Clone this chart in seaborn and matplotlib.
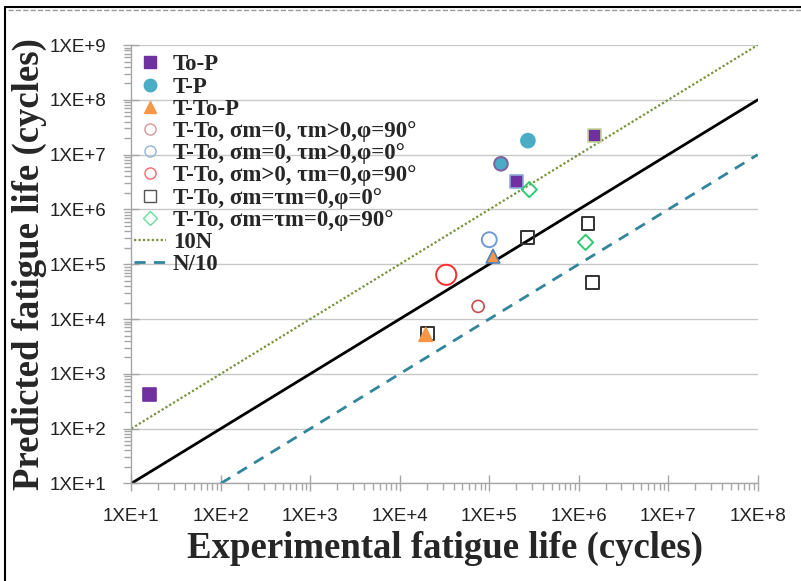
import numpy as np
import seaborn as sns
import matplotlib
matplotlib.use("Agg")
import matplotlib.pyplot as plt
from matplotlib.lines import Line2D
from matplotlib.ticker import LogLocator, FixedLocator, NullFormatter

# --- данные (эксперимент / прогноз, циклы) ---
top_x = [16, 2.0e5, 1.5e6]
top_y = [420, 3.2e6, 2.2e7]
top_edge = ['#7030A0', '#8EA9DB', '#C3D69B']

tp_x = [1.35e5, 2.7e5]
tp_y = [6.8e6, 1.8e7]
tp_edge = ['#8064A2', '#4BACC6']

ttop_x = [1.95e4, 1.1e5]
ttop_y = [5.2e3, 1.4e5]
ttop_edge = ['#F79646', '#4F81BD']

tto1_x = [7.5e4]          # sm=0, tm>0, phi=90
tto1_y = [1.7e4]
tto2_x = [1.0e5]          # sm=0, tm>0, phi=0
tto2_y = [2.8e5]
tto3_x = [3.3e4]          # sm>0, tm=0, phi=90
tto3_y = [6.4e4]
tto4_x = [2.05e4, 2.7e5, 1.27e6, 1.41e6]   # sm=tm=0, phi=0
tto4_y = [5.4e3, 3.1e5, 5.5e5, 4.7e4]
tto5_x = [2.8e5, 1.19e6]  # sm=tm=0, phi=90
tto5_y = [2.3e6, 2.5e5]

line_10n_x = [1e1, 1e8]
line_10n_y = [1e2, 1e9]
line_n_x = [1e1, 1e8]
line_n_y = [1e1, 1e8]
line_n10_x = [1e2, 1e8]
line_n10_y = [1e1, 1e7]

x_ticks = [1e1, 1e2, 1e3, 1e4, 1e5, 1e6, 1e7, 1e8]
y_ticks = [1e1, 1e2, 1e3, 1e4, 1e5, 1e6, 1e7, 1e8, 1e9]
x_labels = ['1XE+1', '1XE+2', '1XE+3', '1XE+4', '1XE+5', '1XE+6', '1XE+7', '1XE+8']
y_labels = ['1XE+1', '1XE+2', '1XE+3', '1XE+4', '1XE+5', '1XE+6', '1XE+7', '1XE+8', '1XE+9']

sns.set_style("white")
plt.rcParams['font.family'] = ['Liberation Serif', 'DejaVu Serif']

fig = plt.figure(figsize=(8.01, 5.81), dpi=100)
ax = fig.add_axes([0.164, 0.168, 0.782, 0.7545])
ax.set_xscale('log')
ax.set_yscale('log')

# опорные линии
ax.plot(line_10n_x, line_10n_y, color='#77933C', lw=1.6, ls=(0, (1, 1)), label='10N', zorder=2)
ax.plot(line_n_x, line_n_y, color='black', lw=2.0, zorder=2)
ax.plot(line_n10_x, line_n10_y, color='#31859C', lw=2.0, ls=(0, (4, 3)), label='N/10', zorder=2)

sns.scatterplot(x=top_x, y=top_y, marker='s', s=85, color='#7030A0',
                edgecolor=top_edge, linewidth=1.2, label='To-P', ax=ax, zorder=4)
sns.scatterplot(x=tp_x, y=tp_y, marker='o', s=95, color='#4BACC6',
                edgecolor=tp_edge, linewidth=1.5, label='T-P', ax=ax, zorder=4)
sns.scatterplot(x=ttop_x, y=ttop_y, marker='^', s=95, color='#F79646',
                edgecolor=ttop_edge, linewidth=1.2, label='T-To-P', ax=ax, zorder=5)
sns.scatterplot(x=tto1_x, y=tto1_y, marker='o', s=75, facecolor='none',
                edgecolor='#C0504D', linewidth=1.2, label='T-To, σm=0, τm>0,φ=90°', ax=ax, zorder=3)
sns.scatterplot(x=tto2_x, y=tto2_y, marker='o', s=115, facecolor='none',
                edgecolor='#6F9BD8', linewidth=1.4, label='T-To, σm=0, τm>0,φ=0°', ax=ax, zorder=3)
sns.scatterplot(x=tto3_x, y=tto3_y, marker='o', s=210, facecolor='none',
                edgecolor='#FF2D2D', linewidth=1.4, label='T-To, σm>0, τm=0,φ=90°', ax=ax, zorder=3)
sns.scatterplot(x=tto4_x, y=tto4_y, marker='s', s=85, facecolor='none',
                edgecolor='#333333', linewidth=1.4, label='T-To, σm=τm=0,φ=0°', ax=ax, zorder=4)
sns.scatterplot(x=tto5_x, y=tto5_y, marker='D', s=60, facecolor='none',
                edgecolor='#2ECC71', linewidth=1.4, label='T-To, σm=τm=0,φ=90°', ax=ax, zorder=4)

ax.set_xlim(1e1, 1e8)
ax.set_ylim(1e1, 1e9)

# оси и сетка
for side in ['top', 'right']:
    ax.spines[side].set_visible(False)
for side in ['left', 'bottom']:
    ax.spines[side].set_color('#A6A6A6')
    ax.spines[side].set_linewidth(1.0)

ax.yaxis.set_major_locator(FixedLocator(y_ticks))
ax.xaxis.set_major_locator(FixedLocator(x_ticks))
ax.set_yticklabels(y_labels)
ax.set_xticklabels(x_labels)
ax.yaxis.set_minor_locator(LogLocator(base=10, subs=np.arange(2, 10), numticks=20))
ax.xaxis.set_minor_locator(LogLocator(base=10, subs=np.arange(2, 10), numticks=20))
ax.xaxis.set_minor_formatter(NullFormatter())
ax.yaxis.set_minor_formatter(NullFormatter())

ax.tick_params(axis='both', which='major', direction='inout', length=12, width=1.0,
               color='#A6A6A6', labelsize=13.5, pad=12)
ax.tick_params(axis='both', which='minor', direction='out', length=5, width=1.0,
               color='#A6A6A6')
ax.tick_params(axis='x', which='both', bottom=True)
ax.tick_params(axis='y', which='both', left=True)
for lab in ax.get_xticklabels() + ax.get_yticklabels():
    lab.set_family(['Liberation Sans', 'DejaVu Sans'])
    lab.set_color('#222222')

ax.grid(True, axis='y', which='major', color='#C8C8C8', lw=1.0)
ax.grid(False, axis='x')
ax.set_axisbelow(True)

ax.set_xlabel('Experimental fatigue life (cycles)', fontsize=26.5, fontweight='bold', labelpad=4)
ax.set_ylabel('Predicted fatigue life (cycles)', fontsize=26.5, fontweight='bold', labelpad=2)

# легенда
handles, labels = ax.get_legend_handles_labels()
order = ['To-P', 'T-P', 'T-To-P', 'T-To, σm=0, τm>0,φ=90°', 'T-To, σm=0, τm>0,φ=0°',
         'T-To, σm>0, τm=0,φ=90°', 'T-To, σm=τm=0,φ=0°', 'T-To, σm=τm=0,φ=90°', '10N', 'N/10']
hmap = dict(zip(labels, handles))
leg_handles = [
    Line2D([], [], ls='none', marker='s', ms=8, mfc='#7030A0', mec='#7030A0'),
    Line2D([], [], ls='none', marker='o', ms=9, mfc='#4BACC6', mec='#4BACC6'),
    Line2D([], [], ls='none', marker='^', ms=9, mfc='#F79646', mec='#F79646'),
    Line2D([], [], ls='none', marker='o', ms=8, mfc='none', mec='#D99694'),
    Line2D([], [], ls='none', marker='o', ms=8, mfc='none', mec='#95B3D7'),
    Line2D([], [], ls='none', marker='o', ms=8, mfc='none', mec='#FF6666'),
    Line2D([], [], ls='none', marker='s', ms=8, mfc='none', mec='#555555'),
    Line2D([], [], ls='none', marker='D', ms=7, mfc='none', mec='#66DD99'),
    hmap['10N'], hmap['N/10'],
]
leg = ax.legend(leg_handles, order, loc='upper left', bbox_to_anchor=(-0.018, 1.01),
                frameon=False, prop={'weight': 'bold', 'size': 16.5},
                handlelength=1.4, handletextpad=0.3, labelspacing=0.05, borderaxespad=0.2)

# рамка рисунка
fig.add_artist(Line2D([0.006, 0.006], [0.0, 0.988], transform=fig.transFigure, color='black', lw=1.5))
fig.add_artist(Line2D([0.006, 1.0], [0.988, 0.988], transform=fig.transFigure, color='black', lw=1.5))
fig.add_artist(Line2D([0.01, 1.0], [0.982, 0.982], transform=fig.transFigure, color='#999999', lw=1, ls='--'))

fig.savefig('out.png', dpi=100)
